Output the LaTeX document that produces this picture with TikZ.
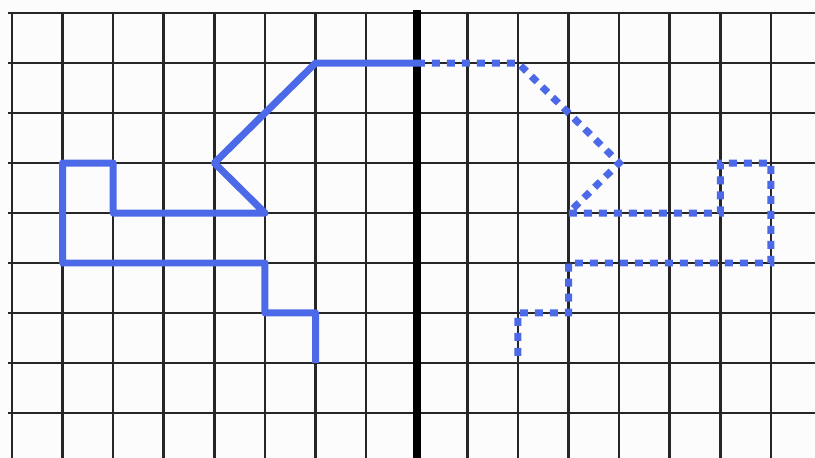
\documentclass[tikz,border=0pt]{standalone}
\usepackage{amsmath}
\usepackage{pgf,tikz}
\usetikzlibrary{arrows}
\definecolor{penblue}{RGB}{76,106,232}
\tikzset{
  gridline/.style={color=black!85, line width=2.6pt},
  original/.style={color=penblue, line width=7pt, line join=round},
  image/.style={color=penblue, line width=7pt, dash pattern=on 8pt off 7pt},
}

\begin{document}
\begin{tikzpicture}[x=50.6pt, y=-50pt]
  \useasboundingbox (-0.237,-0.26) rectangle (15.87,8.9);
  \fill[white!99!black] (-0.237,-0.26) rectangle (15.87,8.9);
  \foreach \i in {0,...,15}
    \draw[gridline] (\i,0) -- (\i,8.9);
  \foreach \j in {0,...,8}
    \draw[gridline] (-0.08,\j) -- (15.87,\j);
  \draw[black, line width=8pt] (8,-0.06) -- (8,8.9);
  \draw[original] (8,1) -- (6,1) -- (4,3) -- (5,4) -- (2,4) -- (2,3) -- (1,3)
    -- (1,5) -- (5,5) -- (5,6) -- (6,6) -- (6,7);
  \draw[image] (8,1) -- (10,1) -- (12,3) -- (11,4) -- (14,4) -- (14,3) -- (15,3)
    -- (15,5) -- (11,5) -- (11,6) -- (10,6) -- (10,7);
\end{tikzpicture}
\end{document}
